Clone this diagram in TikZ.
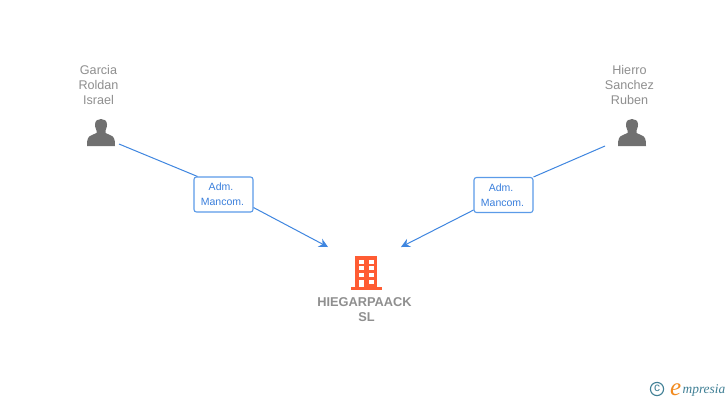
\documentclass[tikz,border=0pt]{standalone}
\usepackage{fontspec}
\setmainfont{Liberation Sans}
\newfontfamily\logofont{Liberation Serif}
\usetikzlibrary{arrows.meta}
\definecolor{namegray}{HTML}{8F8F8F}
\definecolor{icongray}{HTML}{707070}
\definecolor{linkblue}{HTML}{3F86E0}
\definecolor{boxblue}{HTML}{5B9BE8}
\definecolor{labelblue}{HTML}{3A7FDC}
\definecolor{bldg}{HTML}{FF5C33}
\definecolor{logoteal}{HTML}{3F7F95}
\definecolor{logoorange}{HTML}{F28A1E}
\tikzset{
  x=1bp,y=-1bp,
  person/.style={font=\fontsize{12.6bp}{15bp}\selectfont,text=namegray,align=center,inner sep=0pt},
  company/.style={font=\fontsize{12.8bp}{15bp}\selectfont\bfseries,text=namegray,align=center,inner sep=0pt},
  rolebox/.style={draw=boxblue,line width=1.1bp,rounded corners=2.5bp,fill=white,minimum width=59bp,minimum height=35bp,inner sep=0pt,
    font=\fontsize{10.5bp}{15bp}\selectfont,text=labelblue,align=center},
  link/.style={draw=linkblue,line width=1bp},
  arrowlink/.style={link,-{Stealth[length=9bp,width=9bp,inset=3bp]}},
}
\newcommand{\personicon}[1]{%
  \fill[icongray,shift={(#1,0)}] (-14,146)
    .. controls (-14,138.5) and (-13,136.5) .. (-9,135)
    -- (-4.5,133) .. controls (-4,132) and (-4,131.5) .. (-4.5,130.5)
    .. controls (-6,128) and (-6,125) .. (-6,124.5)
    .. controls (-6,120.5) and (-3,119) .. (0,119)
    .. controls (3,119) and (6,120.5) .. (6,124.5)
    .. controls (6,125) and (6,128) .. (4.5,130.5)
    .. controls (4,131.5) and (4,132) .. (4.5,133)
    -- (9,135) .. controls (13,136.5) and (14,138.5) .. (14,146) -- cycle;}
\begin{document}
\begin{tikzpicture}
\useasboundingbox (0,0) rectangle (728,400);
\fill[white] (0,0) rectangle (728,400);

% nodes
\node[person] (p1) at (98.5,85) {Garcia\\Roldan\\Israel};
\node[person] (p2) at (629.5,85) {Hierro\\Sanchez\\Ruben};
\node[company] (co) at (364.5,310) {HIEGARPAACK\\\kern4bp SL};
\personicon{101}
\personicon{632}

% connector ends
\coordinate (s1) at (119,144);
\coordinate (e1) at (328,247);
\coordinate (s2) at (605,146);
\coordinate (e2) at (401,247);
\node[rolebox] (r1) at (223.5,194.5) {Adm.\kern5bp\\Mancom.\kern2bp};
\node[rolebox] (r2) at (503.5,195) {Adm.\kern5bp\\Mancom.\kern2bp};
\coordinate (r1a) at ([xshift=4bp]r1.north west);
\coordinate (r1b) at ([yshift=5bp]r1.south east);
\coordinate (r2a) at (r2.north east);
\coordinate (r2b) at ([yshift=3bp]r2.south west);
\draw[link] (s1) -- (r1a);
\draw[arrowlink] (r1b) -- (e1);
\draw[link] (s2) -- (r2a);
\draw[arrowlink] (r2b) -- (e2);

% building
\fill[bldg] (355,256) rectangle (377,287);
\fill[bldg] (350.5,286.5) rectangle (382,289.5);
\foreach \xx in {359,369}{
  \foreach \yy in {259.5,266,272.5}{
    \fill[white] (\xx,\yy) rectangle (\xx+4.5,\yy+4);
  }
}
\fill[white] (369,279.5) rectangle (373.5,283.5);
\fill[white] (359,279.5) rectangle (363.5,287);

% logo
\draw[logoteal,line width=1.1bp] (657,389) circle (6.6);
\node[inner sep=0pt,text=logoteal,font=\fontsize{12bp}{12bp}\selectfont] (cc) at (657,388.5) {c};
\node[inner sep=0pt,anchor=base west,text=logoorange,font=\logofont\itshape\fontsize{25bp}{25bp}\selectfont] (le) at (670,395) {e};
\node[inner sep=0pt,anchor=base east,text=logoteal,font=\logofont\itshape\fontsize{13.4bp}{13.4bp}\selectfont] (lt) at (725.5,393.5) {mpresia};
\end{tikzpicture}
\end{document}
